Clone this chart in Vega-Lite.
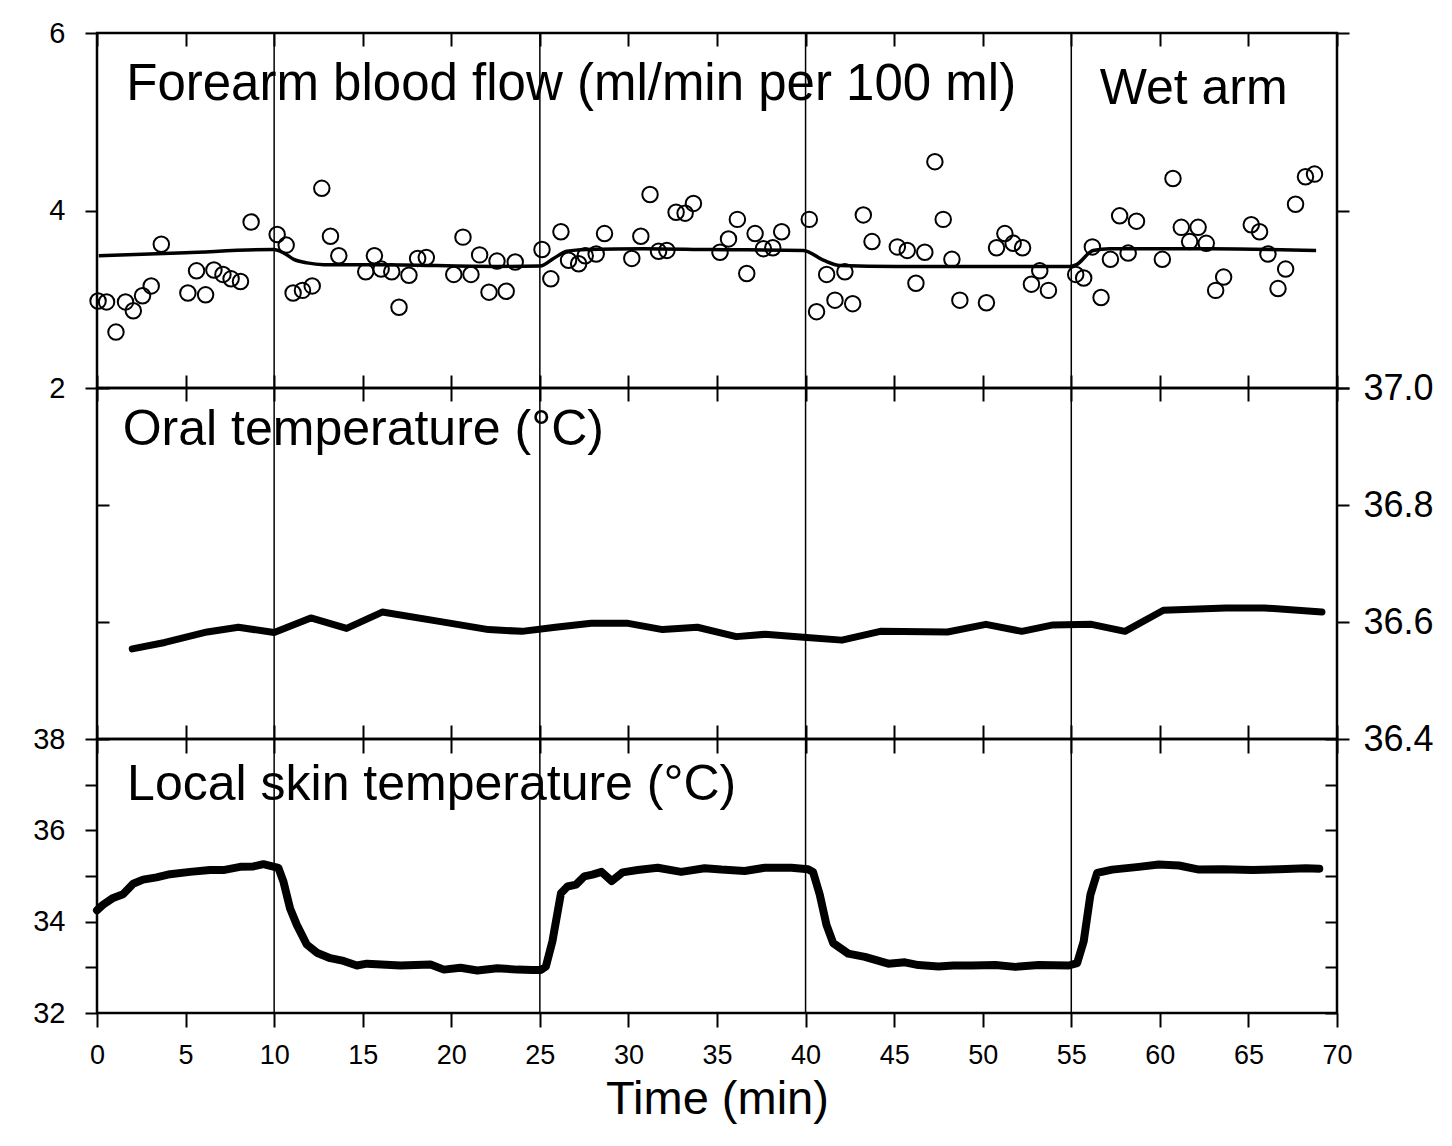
{
  "$schema": "https://vega.github.io/schema/vega-lite/v6.json",
  "background": "white",
  "padding": {"left": 31, "top": 17, "right": 5, "bottom": 5},
  "bounds": "flush",
  "spacing": 0,
  "config": {
    "font": "Liberation Sans",
    "view": {"stroke": "black", "strokeWidth": 2.5},
    "axis": {
      "grid": false, "domain": false, "tickColor": "black", "tickWidth": 2,
      "labelColor": "black", "labelFont": "Liberation Sans", "titleColor": "black",
      "titleFont": "Liberation Sans", "labelFlush": false, "labelBound": false, "labelOverlap": false
    }
  },
  "datasets": {
    "dividers": [{"t": 10}, {"t": 25}, {"t": 40}, {"t": 55}],
    "flow": [
      {"t": 0.06, "v": 2.98}, {"t": 0.54, "v": 2.97}, {"t": 1.07, "v": 2.63}, {"t": 1.61, "v": 2.97},
      {"t": 2.05, "v": 2.87}, {"t": 2.57, "v": 3.04}, {"t": 3.06, "v": 3.15}, {"t": 3.63, "v": 3.62},
      {"t": 5.13, "v": 3.07}, {"t": 5.62, "v": 3.32}, {"t": 6.13, "v": 3.05}, {"t": 6.60, "v": 3.33},
      {"t": 7.11, "v": 3.28}, {"t": 7.57, "v": 3.23}, {"t": 8.10, "v": 3.20}, {"t": 8.70, "v": 3.87},
      {"t": 10.17, "v": 3.73}, {"t": 10.68, "v": 3.61}, {"t": 11.07, "v": 3.07}, {"t": 11.60, "v": 3.10},
      {"t": 12.15, "v": 3.15}, {"t": 12.69, "v": 4.25}, {"t": 13.18, "v": 3.71}, {"t": 13.65, "v": 3.49},
      {"t": 15.17, "v": 3.31}, {"t": 15.66, "v": 3.49}, {"t": 16.04, "v": 3.34}, {"t": 16.64, "v": 3.31},
      {"t": 17.05, "v": 2.91}, {"t": 17.61, "v": 3.27}, {"t": 18.10, "v": 3.46}, {"t": 18.59, "v": 3.47},
      {"t": 20.14, "v": 3.28}, {"t": 20.66, "v": 3.70}, {"t": 21.11, "v": 3.28}, {"t": 21.60, "v": 3.50},
      {"t": 22.13, "v": 3.08}, {"t": 22.58, "v": 3.43}, {"t": 23.10, "v": 3.09}, {"t": 23.61, "v": 3.42},
      {"t": 25.12, "v": 3.56}, {"t": 25.62, "v": 3.23}, {"t": 26.19, "v": 3.76}, {"t": 26.62, "v": 3.44},
      {"t": 27.19, "v": 3.40}, {"t": 27.56, "v": 3.49}, {"t": 28.18, "v": 3.51}, {"t": 28.65, "v": 3.74},
      {"t": 30.19, "v": 3.46}, {"t": 30.70, "v": 3.71}, {"t": 31.22, "v": 4.18}, {"t": 31.70, "v": 3.54},
      {"t": 32.17, "v": 3.55}, {"t": 32.69, "v": 3.98}, {"t": 33.20, "v": 3.97}, {"t": 33.67, "v": 4.08},
      {"t": 35.17, "v": 3.53}, {"t": 35.65, "v": 3.68}, {"t": 36.15, "v": 3.90}, {"t": 36.68, "v": 3.29},
      {"t": 37.15, "v": 3.74}, {"t": 37.62, "v": 3.57}, {"t": 38.15, "v": 3.58}, {"t": 38.65, "v": 3.76},
      {"t": 40.21, "v": 3.90}, {"t": 40.62, "v": 2.86}, {"t": 41.19, "v": 3.28}, {"t": 41.66, "v": 2.99},
      {"t": 42.22, "v": 3.31}, {"t": 42.66, "v": 2.95}, {"t": 43.26, "v": 3.95}, {"t": 43.75, "v": 3.65},
      {"t": 45.18, "v": 3.59}, {"t": 45.74, "v": 3.55}, {"t": 46.23, "v": 3.18}, {"t": 46.73, "v": 3.53},
      {"t": 47.30, "v": 4.55}, {"t": 47.77, "v": 3.90}, {"t": 48.26, "v": 3.45}, {"t": 48.71, "v": 2.99},
      {"t": 50.21, "v": 2.96}, {"t": 50.78, "v": 3.58}, {"t": 51.25, "v": 3.74}, {"t": 51.72, "v": 3.63},
      {"t": 52.25, "v": 3.58}, {"t": 52.75, "v": 3.17}, {"t": 53.22, "v": 3.32}, {"t": 53.71, "v": 3.10},
      {"t": 55.25, "v": 3.28}, {"t": 55.70, "v": 3.24}, {"t": 56.19, "v": 3.59}, {"t": 56.68, "v": 3.02},
      {"t": 57.21, "v": 3.45}, {"t": 57.73, "v": 3.94}, {"t": 58.21, "v": 3.52}, {"t": 58.68, "v": 3.88},
      {"t": 60.14, "v": 3.45}, {"t": 60.74, "v": 4.36}, {"t": 61.21, "v": 3.81}, {"t": 61.68, "v": 3.65},
      {"t": 62.16, "v": 3.81}, {"t": 62.62, "v": 3.63}, {"t": 63.15, "v": 3.10}, {"t": 63.60, "v": 3.25},
      {"t": 65.16, "v": 3.84}, {"t": 65.63, "v": 3.76}, {"t": 66.10, "v": 3.51}, {"t": 66.67, "v": 3.12},
      {"t": 67.10, "v": 3.34}, {"t": 67.66, "v": 4.07}, {"t": 68.22, "v": 4.38}, {"t": 68.73, "v": 4.41}
    ],
    "flowfit": [
      {"t": 0.1, "v": 3.49}, {"t": 5.0, "v": 3.525}, {"t": 9.98, "v": 3.56}, {"t": 10.55, "v": 3.52},
      {"t": 11.11, "v": 3.45}, {"t": 11.86, "v": 3.41}, {"t": 12.8, "v": 3.39}, {"t": 15.8, "v": 3.39},
      {"t": 22.58, "v": 3.37}, {"t": 25.02, "v": 3.375}, {"t": 25.77, "v": 3.46}, {"t": 26.53, "v": 3.54},
      {"t": 27.65, "v": 3.56}, {"t": 30.85, "v": 3.57}, {"t": 34.61, "v": 3.56}, {"t": 39.88, "v": 3.55},
      {"t": 41.0, "v": 3.44}, {"t": 41.94, "v": 3.38}, {"t": 45.14, "v": 3.37}, {"t": 49.65, "v": 3.37},
      {"t": 54.91, "v": 3.37}, {"t": 55.29, "v": 3.39}, {"t": 56.23, "v": 3.55}, {"t": 57.17, "v": 3.57},
      {"t": 62.83, "v": 3.57}, {"t": 68.82, "v": 3.55}
    ],
    "oral": [
      {"t": 1.99, "v": 36.554}, {"t": 3.83, "v": 36.565}, {"t": 6.22, "v": 36.583}, {"t": 7.98, "v": 36.591},
      {"t": 10.0, "v": 36.582}, {"t": 12.07, "v": 36.607}, {"t": 14.09, "v": 36.589}, {"t": 16.1, "v": 36.617},
      {"t": 19.32, "v": 36.601}, {"t": 22.1, "v": 36.587}, {"t": 23.99, "v": 36.584}, {"t": 25.88, "v": 36.591},
      {"t": 27.9, "v": 36.598}, {"t": 29.91, "v": 36.598}, {"t": 31.93, "v": 36.587}, {"t": 33.89, "v": 36.591},
      {"t": 36.09, "v": 36.575}, {"t": 37.72, "v": 36.579}, {"t": 39.88, "v": 36.574}, {"t": 42.05, "v": 36.569},
      {"t": 44.22, "v": 36.584}, {"t": 48.01, "v": 36.583}, {"t": 50.18, "v": 36.596}, {"t": 52.21, "v": 36.584},
      {"t": 53.97, "v": 36.595}, {"t": 56.14, "v": 36.596}, {"t": 58.03, "v": 36.584}, {"t": 60.2, "v": 36.62},
      {"t": 63.73, "v": 36.624}, {"t": 65.9, "v": 36.624}, {"t": 69.15, "v": 36.617}
    ],
    "skin": [
      {"t": 0, "v": 34.25}, {"t": 0.34, "v": 34.37}, {"t": 0.91, "v": 34.52}, {"t": 1.47, "v": 34.60},
      {"t": 2.04, "v": 34.83}, {"t": 2.6, "v": 34.92}, {"t": 3.36, "v": 34.97}, {"t": 4.12, "v": 35.04},
      {"t": 5.25, "v": 35.09}, {"t": 6.38, "v": 35.13}, {"t": 7.13, "v": 35.13}, {"t": 8.08, "v": 35.20},
      {"t": 8.83, "v": 35.21}, {"t": 9.39, "v": 35.26}, {"t": 10.24, "v": 35.18}, {"t": 10.53, "v": 34.87},
      {"t": 10.9, "v": 34.29}, {"t": 11.28, "v": 33.93}, {"t": 11.84, "v": 33.50}, {"t": 12.41, "v": 33.32},
      {"t": 13.17, "v": 33.20}, {"t": 13.92, "v": 33.14}, {"t": 14.67, "v": 33.04}, {"t": 15.24, "v": 33.08},
      {"t": 17.13, "v": 33.04}, {"t": 18.83, "v": 33.06}, {"t": 19.58, "v": 32.95}, {"t": 20.52, "v": 32.99},
      {"t": 21.47, "v": 32.93}, {"t": 22.6, "v": 32.98}, {"t": 23.73, "v": 32.95}, {"t": 24.58, "v": 32.94},
      {"t": 25.05, "v": 32.94}, {"t": 25.34, "v": 33.02}, {"t": 25.71, "v": 33.57}, {"t": 26.19, "v": 34.62},
      {"t": 26.56, "v": 34.77}, {"t": 27.04, "v": 34.81}, {"t": 27.5, "v": 34.99}, {"t": 27.97, "v": 35.03},
      {"t": 28.48, "v": 35.09}, {"t": 29.05, "v": 34.89}, {"t": 29.67, "v": 35.08}, {"t": 30.52, "v": 35.13},
      {"t": 31.65, "v": 35.18}, {"t": 32.98, "v": 35.09}, {"t": 34.3, "v": 35.17}, {"t": 35.24, "v": 35.14},
      {"t": 36.56, "v": 35.11}, {"t": 37.69, "v": 35.18}, {"t": 39.2, "v": 35.18}, {"t": 40.14, "v": 35.15},
      {"t": 40.42, "v": 35.09}, {"t": 40.8, "v": 34.59}, {"t": 41.18, "v": 33.93}, {"t": 41.56, "v": 33.53},
      {"t": 42.41, "v": 33.30}, {"t": 43.35, "v": 33.23}, {"t": 44.67, "v": 33.08}, {"t": 45.61, "v": 33.11},
      {"t": 46.37, "v": 33.05}, {"t": 47.5, "v": 33.02}, {"t": 48.35, "v": 33.04}, {"t": 49.39, "v": 33.04},
      {"t": 50.71, "v": 33.05}, {"t": 51.84, "v": 33.01}, {"t": 53.16, "v": 33.05}, {"t": 54.86, "v": 33.04},
      {"t": 55.33, "v": 33.09}, {"t": 55.7, "v": 33.57}, {"t": 56.08, "v": 34.59}, {"t": 56.46, "v": 35.07},
      {"t": 57.31, "v": 35.14}, {"t": 58.81, "v": 35.20}, {"t": 59.94, "v": 35.25}, {"t": 61.08, "v": 35.23},
      {"t": 62.21, "v": 35.14}, {"t": 63.53, "v": 35.15}, {"t": 65.23, "v": 35.13}, {"t": 66.74, "v": 35.15},
      {"t": 68.25, "v": 35.17}, {"t": 69.0, "v": 35.16}
    ]
  },
  "vconcat": [
    {
      "width": 1240, "height": 355,
      "resolve": {"axis": {"x": "independent", "y": "independent"}},
      "layer": [
        {
          "data": {"name": "dividers"},
          "mark": {"type": "rule", "color": "black", "strokeWidth": 1.5},
          "encoding": {
            "x": {"field": "t", "type": "quantitative", "scale": {"domain": [0, 70], "nice": false},
                  "axis": {"orient": "bottom", "values": [0,5,10,15,20,25,30,35,40,45,50,55,60,65,70], "tickSize": 13, "labels": false, "title": null}}
          }
        },
        {
          "data": {"name": "flow"},
          "mark": {"type": "point", "shape": "circle", "filled": false, "color": "black", "size": 240, "strokeWidth": 2, "opacity": 1},
          "encoding": {
            "x": {"field": "t", "type": "quantitative", "scale": {"domain": [0, 70], "nice": false},
                  "axis": {"orient": "top", "values": [0,5,10,15,20,25,30,35,40,45,50,55,60,65,70], "tickSize": -13, "labels": false, "title": null}},
            "y": {"field": "v", "type": "quantitative", "scale": {"domain": [2, 6], "nice": false, "zero": false},
                  "axis": {"orient": "left", "values": [2, 4, 6], "tickSize": 12, "labelPadding": 20, "labelFontSize": 29, "title": null}}
          }
        },
        {
          "data": {"name": "flowfit"},
          "mark": {"type": "line", "color": "black", "strokeWidth": 3.5, "interpolate": "monotone"},
          "encoding": {
            "x": {"field": "t", "type": "quantitative", "scale": {"domain": [0, 70], "nice": false}, "axis": null},
            "y": {"field": "v", "type": "quantitative", "scale": {"domain": [2, 6], "nice": false, "zero": false},
                  "axis": {"orient": "right", "values": [2, 4, 6], "tickSize": 12, "labels": false, "title": null}}
          }
        },
        {
          "data": {"values": [{}]},
          "mark": {"type": "text", "text": "Forearm blood flow (ml/min per 100 ml)", "align": "left", "baseline": "alphabetic", "fontSize": 51, "font": "Liberation Sans", "color": "black"},
          "encoding": {
            "x": {"datum": 1.65, "type": "quantitative", "scale": {"domain": [0, 70], "nice": false}, "axis": null},
            "y": {"datum": 5.24, "type": "quantitative", "scale": {"domain": [2, 6], "nice": false, "zero": false}, "axis": null}
          }
        },
        {
          "data": {"values": [{}]},
          "mark": {"type": "text", "text": "Wet arm", "align": "left", "baseline": "alphabetic", "fontSize": 50, "font": "Liberation Sans", "color": "black"},
          "encoding": {
            "x": {"datum": 56.6, "type": "quantitative", "scale": {"domain": [0, 70], "nice": false}, "axis": null},
            "y": {"datum": 5.2, "type": "quantitative", "scale": {"domain": [2, 6], "nice": false, "zero": false}, "axis": null}
          }
        }
      ]
    },
    {
      "width": 1240, "height": 351,
      "resolve": {"axis": {"x": "independent", "y": "independent"}},
      "layer": [
        {
          "data": {"name": "dividers"},
          "mark": {"type": "rule", "color": "black", "strokeWidth": 1.5},
          "encoding": {
            "x": {"field": "t", "type": "quantitative", "scale": {"domain": [0, 70], "nice": false},
                  "axis": {"orient": "bottom", "values": [0,5,10,15,20,25,30,35,40,45,50,55,60,65,70], "tickSize": 14, "labels": false, "title": null}}
          }
        },
        {
          "data": {"name": "oral"},
          "mark": {"type": "line", "color": "black", "strokeWidth": 7, "strokeCap": "round", "strokeJoin": "round"},
          "encoding": {
            "x": {"field": "t", "type": "quantitative", "scale": {"domain": [0, 70], "nice": false},
                  "axis": {"orient": "top", "values": [0,5,10,15,20,25,30,35,40,45,50,55,60,65,70], "tickSize": 13, "labels": false, "title": null}},
            "y": {"field": "v", "type": "quantitative", "scale": {"domain": [36.4, 37.0], "nice": false, "zero": false},
                  "axis": {"orient": "right", "values": [36.4, 36.6, 36.8, 37.0], "format": ".1f", "tickSize": 12, "labelPadding": 14, "labelFontSize": 36, "title": null}}
          }
        },
        {
          "data": {"values": [{}]},
          "mark": {"type": "text", "text": "Oral temperature (°C)", "align": "left", "baseline": "alphabetic", "fontSize": 50, "font": "Liberation Sans", "color": "black"},
          "encoding": {
            "x": {"datum": 1.45, "type": "quantitative", "scale": {"domain": [0, 70], "nice": false}, "axis": null},
            "y": {"datum": 36.902, "type": "quantitative", "scale": {"domain": [36.4, 37.0], "nice": false, "zero": false},
                  "axis": {"orient": "left", "values": [36.4, 36.6, 36.8, 37.0], "tickSize": -12, "labels": false, "title": null}}
          }
        }
      ]
    },
    {
      "width": 1240, "height": 274,
      "resolve": {"axis": {"x": "independent", "y": "independent"}},
      "layer": [
        {
          "data": {"name": "dividers"},
          "mark": {"type": "rule", "color": "black", "strokeWidth": 1.5},
          "encoding": {
            "x": {"field": "t", "type": "quantitative", "scale": {"domain": [0, 70], "nice": false},
                  "axis": {"orient": "bottom", "values": [0,5,10,15,20,25,30,35,40,45,50,55,60,65,70], "tickSize": 14, "labelPadding": 15, "labelFontSize": 27,
                           "title": "Time (min)", "titleFontSize": 47, "titleFontWeight": "normal", "titlePadding": 8}}
          }
        },
        {
          "data": {"name": "skin"},
          "mark": {"type": "line", "color": "black", "strokeWidth": 8, "strokeCap": "round", "strokeJoin": "round"},
          "encoding": {
            "x": {"field": "t", "type": "quantitative", "scale": {"domain": [0, 70], "nice": false},
                  "axis": {"orient": "top", "values": [0,5,10,15,20,25,30,35,40,45,50,55,60,65,70], "tickSize": 14, "labels": false, "title": null}},
            "y": {"field": "v", "type": "quantitative", "scale": {"domain": [32, 38], "nice": false, "zero": false},
                  "axis": {"orient": "left", "values": [32, 33, 34, 35, 36, 37, 38], "labelExpr": "datum.value % 2 == 0 ? datum.label : ''", "tickSize": 12, "labelPadding": 20, "labelFontSize": 29, "title": null}}
          }
        },
        {
          "data": {"values": [{}]},
          "mark": {"type": "text", "text": "Local skin temperature (°C)", "align": "left", "baseline": "alphabetic", "fontSize": 50, "font": "Liberation Sans", "color": "black"},
          "encoding": {
            "x": {"datum": 1.7, "type": "quantitative", "scale": {"domain": [0, 70], "nice": false}, "axis": null},
            "y": {"datum": 36.66, "type": "quantitative", "scale": {"domain": [32, 38], "nice": false, "zero": false},
                  "axis": {"orient": "right", "values": [32, 33, 34, 35, 36, 37, 38], "tickSize": -12, "labels": false, "title": null}}
          }
        }
      ]
    }
  ]
}
